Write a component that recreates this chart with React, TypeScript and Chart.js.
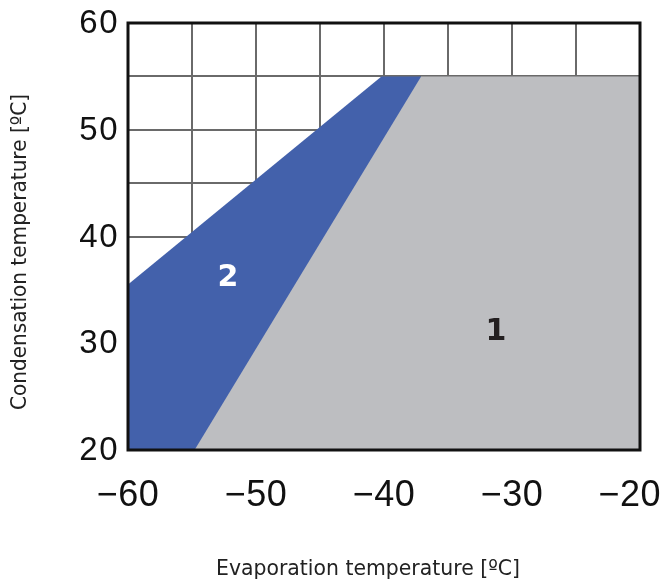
import React, { useEffect, useRef } from "react";
import { Chart, registerables } from "chart.js";

Chart.register(...registerables);

// Operating envelope corners (evaporation °C, condensation °C)
const zone1X = [-54.8, -37.1, -20];
const zone1Y = [20, 55, 55];
const zone2X = [-60, -40.2, -37.1];
const zone2Y = [35.5, 55, 55];

// Zone captions: text and position in data units
const zoneLabels = ["1", "2"];
const zoneLabelX = [-31.25, -52.2];
const zoneLabelY = [31.0, 36.1];

// Axis tick labels
const xTicks = [-60, -50, -40, -30, -20];
const yTicks = [20, 30, 40, 50, 60];

const xTitle = "Evaporation temperature [ºC]";
const yTitle = "Condensation temperature [ºC]";

const toPoints = (xs: number[], ys: number[]) => xs.map((x, i) => ({ x, y: ys[i] }));

const fmt = (v: number) => (v < 0 ? "\u2212" + Math.abs(v) : String(v));

const decorPlugin = {
  id: "decor",
  afterDatasetsDraw(chart: any) {
    const { ctx, chartArea } = chart;
    const xs = chart.scales.x;
    const ys = chart.scales.y;
    ctx.save();
    // zone captions
    ctx.textAlign = "center";
    ctx.textBaseline = "middle";
    ctx.font = "bold 30px 'DejaVu Sans'";
    zoneLabels.forEach((t, i) => {
      ctx.fillStyle = t === "2" ? "#ffffff" : "#231f20";
      ctx.fillText(t, xs.getPixelForValue(zoneLabelX[i]), ys.getPixelForValue(zoneLabelY[i]));
    });
    // frame
    ctx.strokeStyle = "#111111";
    ctx.lineWidth = 3;
    ctx.strokeRect(chartArea.left, chartArea.top, chartArea.right - chartArea.left, chartArea.bottom - chartArea.top);
    ctx.restore();
  },
  afterDraw(chart: any) {
    const { ctx, chartArea, width } = chart;
    const xs = chart.scales.x;
    const ys = chart.scales.y;
    ctx.save();
    ctx.fillStyle = "#111111";
    // y tick labels
    ctx.font = "33px 'Liberation Sans'";
    (ctx as any).letterSpacing = "1.5px";
    ctx.textAlign = "right";
    ctx.textBaseline = "middle";
    yTicks.forEach((v) => {
      ctx.fillText(fmt(v), chartArea.left - 9, ys.getPixelForValue(v) + 1);
    });
    // x tick labels
    ctx.font = "36px 'Liberation Sans'";
    (ctx as any).letterSpacing = "0.5px";
    ctx.textAlign = "center";
    ctx.textBaseline = "middle";
    xTicks.forEach((v) => {
      const t = fmt(v);
      const w = ctx.measureText(t).width;
      const px = Math.min(xs.getPixelForValue(v), width - 4 - w / 2);
      ctx.fillText(t, px, 496);
    });
    (ctx as any).letterSpacing = "0px";
    // axis titles
    ctx.fillStyle = "#222222";
    ctx.font = "21px 'DejaVu Sans'";
    ctx.textAlign = "center";
    ctx.textBaseline = "middle";
    ctx.fillText(xTitle, 368, 570, 304);
    ctx.translate(21, 252);
    ctx.rotate(-Math.PI / 2);
    ctx.fillText(yTitle, 0, 0, 316);
    ctx.restore();
  },
};

export default function App() {
  const canvasRef = useRef<HTMLCanvasElement | null>(null);

  useEffect(() => {
    if (!canvasRef.current) return;
    const chart = new Chart(canvasRef.current, {
      type: "line",
      data: {
        datasets: [
          {
            label: "1",
            data: toPoints(zone1X, zone1Y),
            backgroundColor: "#bdbec1",
            borderWidth: 0,
            pointRadius: 0,
            fill: "start",
            tension: 0,
          },
          {
            label: "2",
            data: toPoints(zone2X, zone2Y),
            backgroundColor: "#4361ab",
            borderWidth: 0,
            pointRadius: 0,
            fill: "start",
            tension: 0,
          },
        ],
      },
      options: {
        animation: false,
        responsive: true,
        maintainAspectRatio: false,
        layout: { padding: { left: 128, top: 23, right: 25, bottom: 136 } },
        plugins: { legend: { display: false }, tooltip: { enabled: false } },
        scales: {
          x: {
            type: "linear",
            min: -60,
            max: -20,
            ticks: { display: false, stepSize: 5 },
            grid: { color: "#6a6a6a", lineWidth: 2, drawTicks: false },
            border: { display: false },
            afterFit: (s: any) => {
              s.height = 0;
            },
          },
          y: {
            type: "linear",
            min: 20,
            max: 60,
            ticks: { display: false, stepSize: 5 },
            grid: { color: "#6a6a6a", lineWidth: 2, drawTicks: false },
            border: { display: false },
            afterFit: (s: any) => {
              s.width = 0;
            },
          },
        },
      },
      plugins: [decorPlugin],
    });
    return () => chart.destroy();
  }, []);

  return (
    <div style={{ position: "fixed", left: 0, top: 0, width: 665, height: 586, background: "#ffffff" }}>
      <canvas ref={canvasRef} />
    </div>
  );
}
